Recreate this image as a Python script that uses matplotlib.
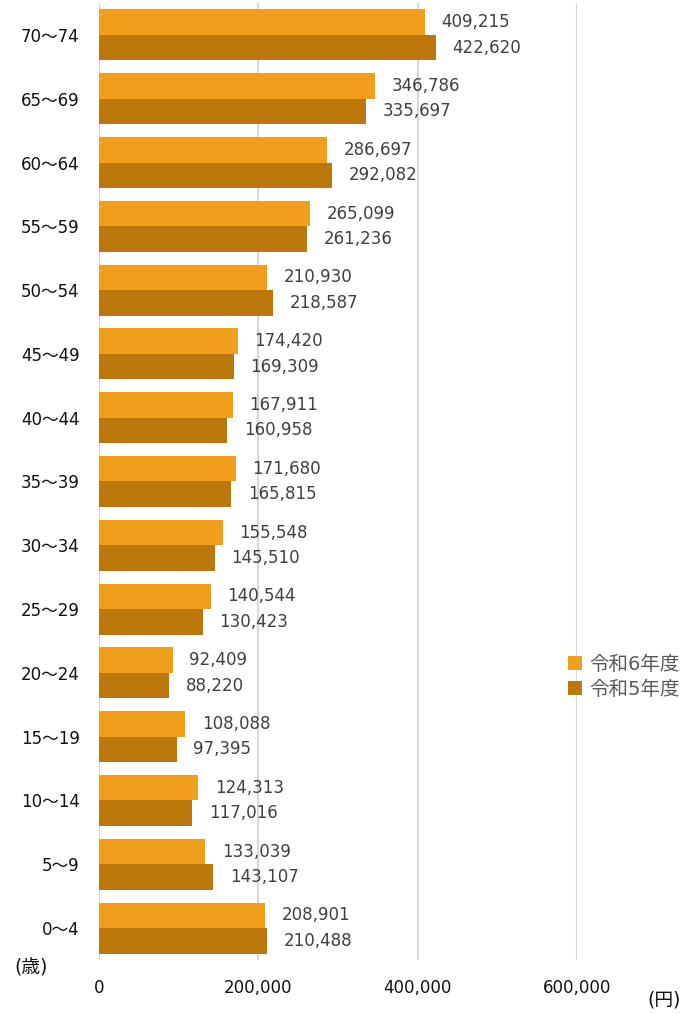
import numpy as np
import matplotlib.pyplot as plt

plt.rcParams['font.family'] = ['DejaVu Sans', 'Noto Sans CJK JP']

ages = ['0～4', '5～9', '10～14', '15～19', '20～24', '25～29', '30～34',
        '35～39', '40～44', '45～49', '50～54', '55～59', '60～64', '65～69', '70～74']
r6 = [208901, 133039, 124313, 108088, 92409, 140544, 155548,
      171680, 167911, 174420, 210930, 265099, 286697, 346786, 409215]
r5 = [210488, 143107, 117016, 97395, 88220, 130423, 145510,
      165815, 160958, 169309, 218587, 261236, 292082, 335697, 422620]
series = ['令和6年度', '令和5年度']
colors = ['#F19E1D', '#BC770A']
xticks = [0, 200000, 400000, 600000]

fig = plt.figure(figsize=(6.85, 10.14), dpi=100)
ax = fig.add_axes([0.1445, 0.0533, 0.8423 - 0.1445, 0.997 - 0.0533])

y = np.arange(len(ages))
h = 0.4
b6 = ax.barh(y + h / 2, r6, height=h, color=colors[0], label=series[0], zorder=3)
b5 = ax.barh(y - h / 2, r5, height=h, color=colors[1], label=series[1], zorder=3)

# value labels just right of each bar
for bars, vals in ((b6, r6), (b5, r5)):
    for bar, v in zip(bars, vals):
        ax.annotate(f'{v:,}', (v, bar.get_y() + bar.get_height() / 2),
                    xytext=(12, 0), textcoords='offset points',
                    ha='left', va='center', fontsize=12, color='#404040')

ax.set_xlim(0, 600000)
ax.set_ylim(-0.5, len(ages) - 0.5)
ax.set_xticks(xticks)
ax.set_xticklabels([f'{t:,}' for t in xticks], fontsize=12, color='#111111')
ax.set_yticks(y)
ax.set_yticklabels(ages, fontsize=12, color='#111111')
ax.tick_params(axis='both', length=0)
ax.tick_params(axis='x', pad=14)
ax.tick_params(axis='y', pad=14)
ax.grid(axis='x', color='#D9D9D9', linewidth=1.6, zorder=0)
for s in ax.spines.values():
    s.set_visible(False)

fig.text(14 / 685, 1 - 968 / 1014, '(歳)', fontsize=13.5, color='#111111',
         ha='left', va='center')
fig.text(681 / 685, 1 - 1000 / 1014, '(円)', fontsize=13.5, color='#111111',
         ha='right', va='center')

fig.legend(handles=[b6, b5], labels=series, loc='center left',
           bbox_to_anchor=(550 / 685, 1 - 677 / 1014), frameon=False,
           fontsize=14, labelcolor='#595959', handlelength=0.75,
           handleheight=0.75, handletextpad=0.35, labelspacing=0.3)

fig.savefig('out.png', dpi=100)
